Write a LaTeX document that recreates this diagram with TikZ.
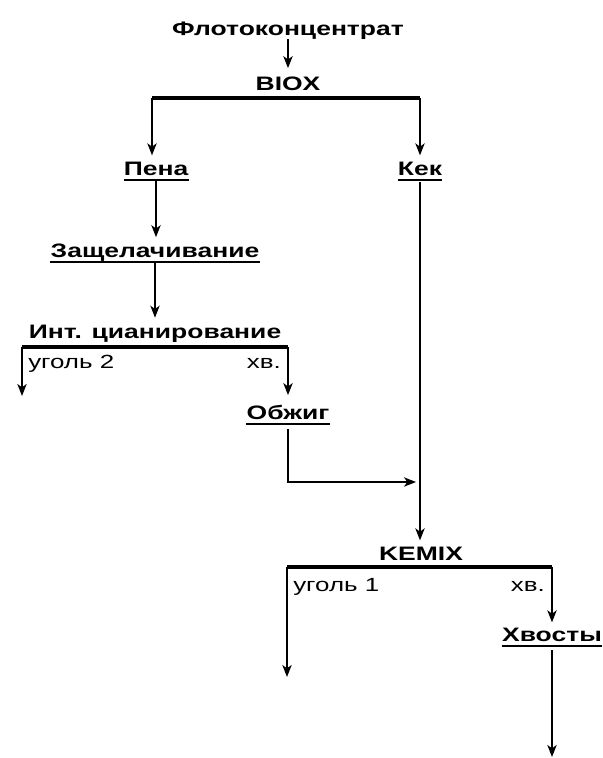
\documentclass[tikz,border=0pt]{standalone}
\usepackage{fontspec}
\setmainfont{Liberation Sans}[FakeStretch=1.36]
\usetikzlibrary{arrows.meta}
\begin{document}
\begin{tikzpicture}[x=0.75pt,y=-0.75pt,
  lbl/.style={font=\fontsize{14.6pt}{16pt}\selectfont\bfseries, inner sep=0pt, anchor=base},
  sm/.style={font=\fontsize{14.3pt}{16pt}\selectfont, inner sep=0pt},
  ar/.style={line width=1.1pt, -{Stealth[length=9pt,width=7pt,inset=2.5pt]}},
  ln/.style={line width=1.1pt},
  bar/.style={line width=2.6pt},
  ul/.style={line width=1.4pt}]
\useasboundingbox (0,0) rectangle (603,758);
% nodes
\node[lbl] (flot) at (288,35) {Флотоконцентрат};
\node[lbl] (biox) at (288,90) {BIOX};
\node[lbl] (pena) at (156,175) {Пена};
\node[lbl] (kek) at (420,175) {Кек};
\node[lbl] (zasch) at (155,257) {Защелачивание};
\node[lbl] (cyan) at (155,338) {Инт. цианирование};
\node[sm, anchor=base west] (ug2) at (28,368) {уголь 2};
\node[sm, anchor=base east] (hv1) at (281,368) {хв.};
\node[lbl] (obzh) at (288,419) {Обжиг};
\node[lbl] (kemix) at (421,560) {KEMIX};
\node[sm, anchor=base west] (ug1) at (293,591) {уголь 1};
\node[sm, anchor=base east] (hv2) at (545,591) {хв.};
\node[lbl] (hvost) at (552,641) {Хвосты};
% underlines
\foreach \n in {pena,kek,zasch,obzh,hvost}
  \draw[ul] ([yshift=-3.5pt]\n.base west) -- ([yshift=-3.5pt]\n.base east);
% coordinates
\coordinate (b1l) at (152,98);
\coordinate (b1r) at (420,98);
\coordinate (b2l) at (22,347);
\coordinate (b2r) at (288,347);
\coordinate (e2) at (22,396);
\coordinate (j2) at (416,482);
\coordinate (b3l) at (287,567);
\coordinate (b3r) at (552,567);
\coordinate (e1) at (287,677);
\coordinate (e3) at (552,757);
% connectors
\draw[ar, shorten >=6pt] (flot.south) -- (biox.north);
\draw[bar] (b1l) -- (b1r);
\draw[ar, shorten >=4.5pt] (b1l) -- (b1l |- pena.north);
\draw[ar, shorten >=4.5pt] (b1r) -- (kek.north);
\draw[ar, shorten <=4.5pt, shorten >=4.5pt] (pena.south) -- (pena.south |- zasch.north);
\draw[ar, shorten <=1.5pt, shorten >=5pt] (zasch.south) -- (cyan.north);
\draw[bar] (b2l) -- (b2r);
\draw[ar] (b2l) -- (e2);
\draw[ar, shorten >=7pt] (b2r) -- (obzh.north);
\draw[ar, shorten <=7pt] (obzh.south) |- (j2);
\draw[ar, shorten <=5pt, shorten >=4.5pt] (kek.south) -- (kek.south |- kemix.north);
\draw[bar] (b3l) -- (b3r);
\draw[ar] (b3l) -- (e1);
\draw[ar, shorten >=3.75pt] (b3r) -- (hvost.north);
\draw[ar, shorten <=6.75pt] (hvost.south) -- (e3);
\end{tikzpicture}
\end{document}
